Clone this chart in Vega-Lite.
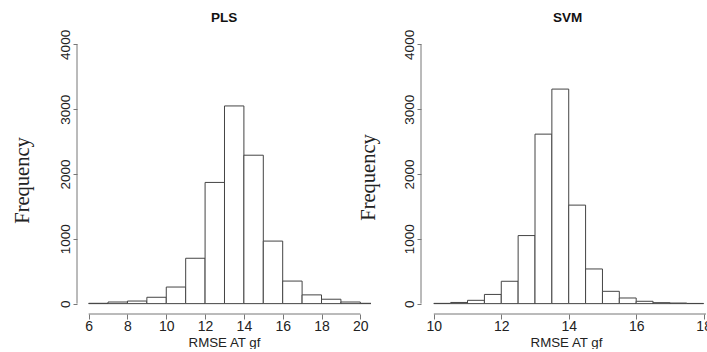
{
  "$schema": "https://vega.github.io/schema/vega-lite/v6.json",
  "padding": {"left": 12, "top": 10, "right": 0, "bottom": 0},
  "background": "white",
  "spacing": -13,
  "config": {
    "view": {"stroke": null},
    "font": "Liberation Sans",
    "axis": {
      "grid": false,
      "domain": false,
      "tickColor": "#777777",
      "tickWidth": 1,
      "labelColor": "#222222",
      "labelFont": "Liberation Sans",
      "labelOverlap": false,
      "labelFlush": false,
      "labelBound": false,
      "titleColor": "#222222",
      "titleFontWeight": "normal"
    }
  },
  "datasets": {
    "pls": [
      {"bin_start": 6, "bin_end": 7, "count": 5},
      {"bin_start": 7, "bin_end": 8, "count": 25},
      {"bin_start": 8, "bin_end": 9, "count": 40},
      {"bin_start": 9, "bin_end": 10, "count": 98},
      {"bin_start": 10, "bin_end": 11, "count": 256},
      {"bin_start": 11, "bin_end": 12, "count": 700},
      {"bin_start": 12, "bin_end": 13, "count": 1870},
      {"bin_start": 13, "bin_end": 14, "count": 3050},
      {"bin_start": 14, "bin_end": 15, "count": 2290},
      {"bin_start": 15, "bin_end": 16, "count": 965},
      {"bin_start": 16, "bin_end": 17, "count": 348},
      {"bin_start": 17, "bin_end": 18, "count": 135},
      {"bin_start": 18, "bin_end": 19, "count": 68},
      {"bin_start": 19, "bin_end": 20, "count": 25},
      {"bin_start": 20, "bin_end": 21, "count": 5}
    ],
    "svm": [
      {"bin_start": 10, "bin_end": 10.5, "count": 4},
      {"bin_start": 10.5, "bin_end": 11, "count": 18},
      {"bin_start": 11, "bin_end": 11.5, "count": 51},
      {"bin_start": 11.5, "bin_end": 12, "count": 142},
      {"bin_start": 12, "bin_end": 12.5, "count": 345},
      {"bin_start": 12.5, "bin_end": 13, "count": 1050},
      {"bin_start": 13, "bin_end": 13.5, "count": 2615},
      {"bin_start": 13.5, "bin_end": 14, "count": 3310},
      {"bin_start": 14, "bin_end": 14.5, "count": 1520},
      {"bin_start": 14.5, "bin_end": 15, "count": 535},
      {"bin_start": 15, "bin_end": 15.5, "count": 190},
      {"bin_start": 15.5, "bin_end": 16, "count": 87},
      {"bin_start": 16, "bin_end": 16.5, "count": 36},
      {"bin_start": 16.5, "bin_end": 17, "count": 15},
      {"bin_start": 17, "bin_end": 17.5, "count": 9},
      {"bin_start": 17.5, "bin_end": 18, "count": 3}
    ]
  },
  "hconcat": [
    {
      "width": 294,
      "height": 280,
      "title": {"text": "PLS", "font": "Liberation Sans", "fontSize": 13.5, "fontWeight": "bold", "color": "#111111", "anchor": "middle", "baseline": "alphabetic", "offset": -6},
      "layer": [
        {
          "data": {"name": "pls"},
          "mark": {"type": "rect", "fill": "white", "stroke": "#444444", "strokeWidth": 1, "clip": true},
          "encoding": {
            "x": {"field": "bin_start", "type": "quantitative",
              "scale": {"domain": [5.4, 20.55], "nice": false, "zero": false},
              "axis": {"values": [6, 8, 10, 12, 14, 16, 18, 20], "tickSize": 5, "labelPadding": 0, "labelFontSize": 14,
                "title": "RMSE AT gf", "titleFont": "Liberation Sans", "titleFontSize": 13.3, "titlePadding": 2}},
            "x2": {"field": "bin_end"},
            "y": {"field": "count", "type": "quantitative",
              "scale": {"domain": [-160, 4160], "nice": false, "zero": false},
              "axis": {"values": [0, 1000, 2000, 3000, 4000], "format": "d", "tickSize": 4, "labelPadding": 1, "labelFontSize": 13.5,
                "labelAngle": -90, "labelAlign": "center", "labelBaseline": "bottom",
                "title": "Frequency", "titleFont": "Liberation Serif", "titleFontSize": 20.5,
                "titleAngle": 270, "titleAlign": "center", "titleBaseline": "middle", "titleX": -55, "titleY": 146}},
            "y2": {"datum": 0}
          }
        },
        {
          "data": {"values": [{}]},
          "mark": {"type": "rule", "color": "#777777", "strokeWidth": 1},
          "encoding": {
            "x": {"datum": 5.4, "type": "quantitative"},
            "y": {"datum": 0, "type": "quantitative"},
            "y2": {"datum": 4000}
          }
        },
        {
          "data": {"values": [{}]},
          "mark": {"type": "rule", "color": "#777777", "strokeWidth": 1},
          "encoding": {
            "y": {"datum": -160, "type": "quantitative"},
            "x": {"datum": 6, "type": "quantitative"},
            "x2": {"datum": 20}
          }
        }
      ]
    },
    {
      "width": 285,
      "height": 280,
      "title": {"text": "SVM", "font": "Liberation Sans", "fontSize": 13.5, "fontWeight": "bold", "color": "#111111", "anchor": "middle", "baseline": "alphabetic", "offset": -6, "dx": 4},
      "layer": [
        {
          "data": {"name": "svm"},
          "mark": {"type": "rect", "fill": "white", "stroke": "#444444", "strokeWidth": 1, "clip": true},
          "encoding": {
            "x": {"field": "bin_start", "type": "quantitative",
              "scale": {"domain": [9.62, 18.07], "nice": false, "zero": false},
              "axis": {"values": [10, 12, 14, 16, 18], "tickSize": 5, "labelPadding": 0, "labelFontSize": 14,
                "title": "RMSE AT gf", "titleFont": "Liberation Sans", "titleFontSize": 13.3, "titlePadding": 2, "titleX": 145}},
            "x2": {"field": "bin_end"},
            "y": {"field": "count", "type": "quantitative",
              "scale": {"domain": [-160, 4160], "nice": false, "zero": false},
              "axis": {"values": [0, 1000, 2000, 3000, 4000], "format": "d", "tickSize": 4, "labelPadding": 1, "labelFontSize": 13.5,
                "labelAngle": -90, "labelAlign": "center", "labelBaseline": "bottom",
                "title": "Frequency", "titleFont": "Liberation Serif", "titleFontSize": 20.5,
                "titleAngle": 270, "titleAlign": "center", "titleBaseline": "middle", "titleX": -52.5, "titleY": 143}},
            "y2": {"datum": 0}
          }
        },
        {
          "data": {"values": [{}]},
          "mark": {"type": "rule", "color": "#777777", "strokeWidth": 1},
          "encoding": {
            "x": {"datum": 9.62, "type": "quantitative"},
            "y": {"datum": 0, "type": "quantitative"},
            "y2": {"datum": 4000}
          }
        },
        {
          "data": {"values": [{}]},
          "mark": {"type": "rule", "color": "#777777", "strokeWidth": 1},
          "encoding": {
            "y": {"datum": -160, "type": "quantitative"},
            "x": {"datum": 10, "type": "quantitative"},
            "x2": {"datum": 18.07}
          }
        }
      ]
    }
  ]
}
